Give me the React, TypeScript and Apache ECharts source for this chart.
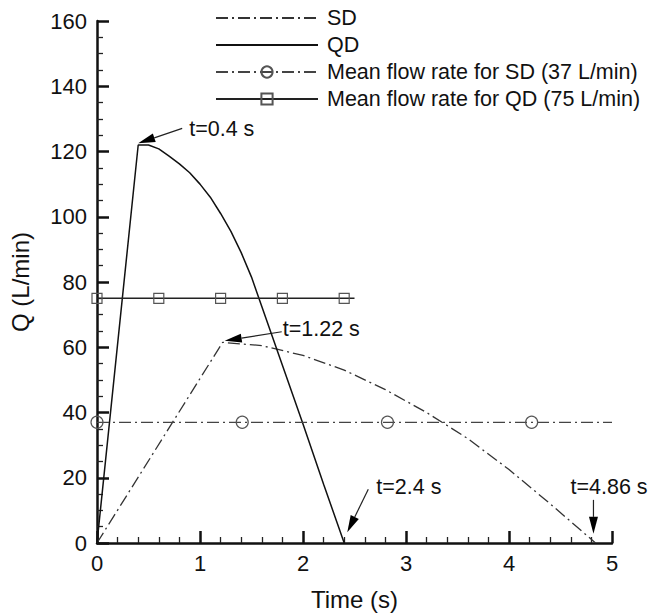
import React, { useEffect, useRef } from "react";
import * as echarts from "echarts";

// ---------- data ----------
const sdTimes = [0, 1.22, 1.6, 2.0, 2.4, 2.8, 3.2, 3.6, 4.0, 4.4, 4.84];
const sdFlow = [0, 61.5, 60.5, 57.5, 53, 47, 40, 32, 22.5, 12, 0];

const qdTimes = [0, 0.4, 0.5, 0.6, 0.7, 0.8, 0.9, 1.0, 1.1, 1.2, 1.3, 1.4, 1.5, 1.6, 1.8, 2.0, 2.2, 2.4];
const qdFlow = [0, 122, 122, 120.8, 118.6, 116.2, 113.5, 110, 106, 101, 95.5, 89, 81.5, 72.5, 54.5, 36.5, 18, 0];

const meanSdTimes = [0, 1.41, 2.82, 4.22, 5.0];
const meanSdValue = 37;
const meanQdTimes = [0, 0.6, 1.2, 1.8, 2.4, 2.5];
const meanQdValue = 75;

const seriesNames = [
  "SD",
  "QD",
  "Mean flow rate for SD (37 L/min)",
  "Mean flow rate for QD (75 L/min)",
];

const xTicks = { min: 0, max: 5, interval: 1 };
const yTicks = { min: 0, max: 160, interval: 20 };

// annotations: tip in data coords, tail / text offsets in pixels from tip
const annotations = [
  { text: "t=0.4 s", at: [0.4, 122.5], tail: [44, -15], label: [51, -14] },
  { text: "t=1.22 s", at: [1.24, 62], tail: [57, -9], label: [58, -12] },
  { text: "t=2.4 s", at: [2.43, 3.3], tail: [21, -43], label: [29, -45] },
  { text: "t=4.86 s", at: [4.82, 2.8], tail: [0, -34], label: [-23, -47] },
];

const FONT = "'Liberation Sans', Arial, Helvetica, sans-serif";
const DASHDOT = [12, 4, 2, 4];

export default function App() {
  const ref = useRef<HTMLDivElement>(null);

  useEffect(() => {
    document.body.style.margin = "0";
    const chart = echarts.init(ref.current!, undefined, { renderer: "svg" });

    const zip = (xs: number[], ys: number[]) => xs.map((x, i) => [x, ys[i]]);

    const axisCommon = {
      axisLine: { show: true, lineStyle: { color: "#111", width: 2.5 } },
      axisTick: { show: true, inside: true, length: 12, lineStyle: { color: "#111", width: 2.5 } },
      minorTick: { show: true, length: 6, lineStyle: { color: "#222", width: 1.3 } },
      splitLine: { show: false },
      axisLabel: { color: "#111", fontSize: 22, fontFamily: FONT },
      nameTextStyle: { color: "#111", fontSize: 24, fontFamily: FONT },
    };

    const hiddenSymbol = { color: "rgba(0,0,0,0)", borderColor: "rgba(0,0,0,0)", borderWidth: 0, opacity: 0 };

    chart.setOption({
      animation: false,
      backgroundColor: "#fff",
      textStyle: { fontFamily: FONT },
      grid: { left: 97, right: 50, top: 21, bottom: 70, containLabel: false },
      legend: {
        orient: "vertical",
        left: 210,
        top: 2,
        itemWidth: 102,
        itemHeight: 14,
        itemGap: 5,
        data: [
          { name: seriesNames[0], itemStyle: hiddenSymbol },
          { name: seriesNames[1], itemStyle: hiddenSymbol },
          { name: seriesNames[2] },
          { name: seriesNames[3] },
        ],
        textStyle: { fontSize: 21.5, fontFamily: FONT, color: "#111", padding: [0, 0, 0, 4] },
      },
      xAxis: {
        type: "value",
        ...xTicks,
        ...axisCommon,
        minorTick: { ...axisCommon.minorTick, splitNumber: 5 },
        axisLabel: { ...axisCommon.axisLabel, margin: 9 },
        name: "Time (s)",
        nameLocation: "middle",
        nameGap: 44,
      },
      yAxis: {
        type: "value",
        ...yTicks,
        ...axisCommon,
        minorTick: { ...axisCommon.minorTick, splitNumber: 4 },
        axisLabel: { ...axisCommon.axisLabel, margin: 10 },
        name: "Q (L/min)",
        nameLocation: "middle",
        nameGap: 65,
      },
      series: [
        {
          name: seriesNames[0],
          type: "line",
          data: zip(sdTimes, sdFlow),
          symbol: "none",
          lineStyle: { color: "#333", width: 1.3, type: DASHDOT },
          itemStyle: { color: "#333" },
        },
        {
          name: seriesNames[1],
          type: "line",
          data: zip(qdTimes, qdFlow),
          symbol: "none",
          lineStyle: { color: "#111", width: 1.5 },
          itemStyle: { color: "#111" },
        },
        {
          name: seriesNames[2],
          type: "line",
          data: meanSdTimes.map((t, i) =>
            i === meanSdTimes.length - 1
              ? { value: [t, meanSdValue], symbol: "none" }
              : { value: [t, meanSdValue] }
          ),
          symbol: "circle",
          symbolSize: 12,
          showAllSymbol: true,
          lineStyle: { color: "#444", width: 1.3, type: DASHDOT },
          itemStyle: { color: "rgba(255,255,255,0)", borderColor: "#555", borderWidth: 1.2 },
        },
        {
          name: seriesNames[3],
          type: "line",
          data: meanQdTimes.map((t, i) =>
            i === meanQdTimes.length - 1
              ? { value: [t, meanQdValue], symbol: "none" }
              : { value: [t, meanQdValue] }
          ),
          symbol: "rect",
          symbolSize: 10,
          showAllSymbol: true,
          lineStyle: { color: "#222", width: 1.4 },
          itemStyle: { color: "rgba(255,255,255,0)", borderColor: "#555", borderWidth: 1.2 },
        },
      ],
    });

    // annotation arrows positioned through the chart's own scales
    const elements: any[] = [];
    annotations.forEach((a) => {
      const tip = chart.convertToPixel({ gridIndex: 0 }, a.at) as number[];
      const tail = [tip[0] + a.tail[0], tip[1] + a.tail[1]];
      const dx = tip[0] - tail[0];
      const dy = tip[1] - tail[1];
      const len = Math.sqrt(dx * dx + dy * dy);
      const ux = dx / len;
      const uy = dy / len;
      const L = 17;
      const W = 4.5;
      const base = [tip[0] - ux * L, tip[1] - uy * L];
      elements.push({
        type: "line",
        shape: { x1: tail[0], y1: tail[1], x2: base[0], y2: base[1] },
        style: { stroke: "#222", lineWidth: 1.2 },
      });
      elements.push({
        type: "polygon",
        shape: {
          points: [
            tip,
            [base[0] - uy * W, base[1] + ux * W],
            [base[0] + uy * W, base[1] - ux * W],
          ],
        },
        style: { fill: "#000" },
      });
      elements.push({
        type: "text",
        x: tip[0] + a.label[0],
        y: tip[1] + a.label[1],
        style: {
          text: a.text,
          fontSize: 21.5,
          fontFamily: FONT,
          fill: "#111",
          verticalAlign: "middle",
          align: "left",
        },
      });
    });
    chart.setOption({ graphic: elements });

    return () => chart.dispose();
  }, []);

  return (
    <div
      ref={ref}
      style={{ position: "absolute", left: 0, top: 0, width: 662, height: 616 }}
    />
  );
}
